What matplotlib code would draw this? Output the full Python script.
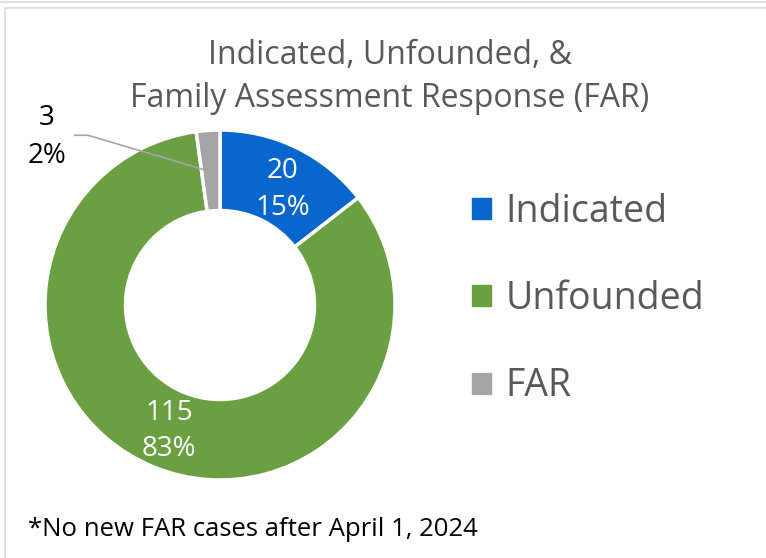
import numpy as np
import matplotlib.pyplot as plt
from matplotlib.patches import Rectangle

categorias = ['Indicated', 'Unfounded', 'FAR']
casos = [20, 115, 3]
porcentajes = ['15%', '83%', '2%']
colores = ['#0866CC', '#6AA042', '#A5A5A5']

plt.rcParams['font.family'] = ['Open Sans', 'DejaVu Sans']

fig = plt.figure(figsize=(7.66, 5.58), dpi=100)

# bordes del cuadro
fig.add_artist(Rectangle((5 / 766, -0.05), 1.2, 1 - 8 / 558 + 0.05, transform=fig.transFigure,
                         fill=False, edgecolor='#D9D9D9', linewidth=1.2))
fig.add_artist(plt.Line2D([0, 1], [1 - 2 / 558, 1 - 2 / 558], transform=fig.transFigure,
                          color='#D9D9D9', linewidth=1.2))

ax = fig.add_axes([45 / 766, 78 / 558, 350 / 766, 350 / 558])
cunas, _ = ax.pie(casos, colors=colores, startangle=90, counterclock=False, radius=1,
                  wedgeprops=dict(width=0.46, edgecolor='white', linewidth=2.5))
ax.set_xlim(-1, 1)
ax.set_ylim(-1, 1)
ax.set_aspect('equal')
ax.axis('off')

# etiquetas de datos
ax.text(0.36, 0.66, f"{casos[0]}\n{porcentajes[0]}", color='white', fontsize=20,
        ha='center', va='center', linespacing=1.45)
ax.text(-0.29, -0.72, f"{casos[1]}\n{porcentajes[1]}", color='white', fontsize=20,
        ha='center', va='center', linespacing=1.35)

# etiqueta externa de FAR con linea guia
c = cunas[2]
ang = np.deg2rad((c.theta1 + c.theta2) / 2 + 3)
px, py = 0.78 * np.cos(ang), 0.78 * np.sin(ang)
ax.plot([-0.83, -0.755, px], [0.97, 0.97, py], color='#A6A6A6', lw=1.2, clip_on=False)
ax.text(-0.99, 0.96, f"{casos[2]}\n{porcentajes[2]}", fontsize=20, ha='center', va='center',
        linespacing=1.45, color='black')

fig.text(390 / 766, 1 - 77 / 558, "Indicated, Unfounded, &\nFamily Assessment Response (FAR)",
         ha='center', va='center', fontsize=23, color='#595959', linespacing=1.4)

handles = [Rectangle((0, 0), 1, 1, color=c) for c in colores]
fig.legend(handles, categorias, loc='center left', bbox_to_anchor=(438 / 766, 1 - 299 / 558),
           frameon=False, fontsize=27, labelcolor='#595959', handlelength=0.5, handleheight=0.5,
           handletextpad=0.4, labelspacing=1.32)

fig.text(28 / 766, 1 - 530 / 558, "*No new FAR cases after April 1, 2024", fontsize=18.5,
         color='black', ha='left', va='center')

plt.savefig("out.png", dpi=100)
